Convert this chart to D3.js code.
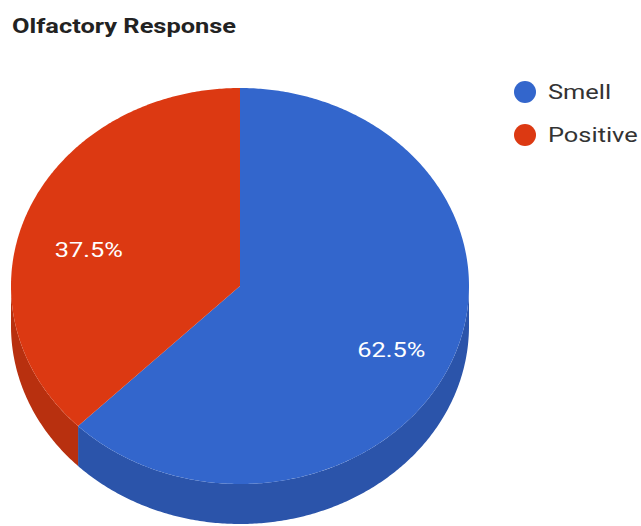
<!DOCTYPE html>
<html><head><meta charset="utf-8">
<script src="https://cdn.jsdelivr.net/npm/d3@7/dist/d3.min.js"></script>
<style>body{margin:0;background:#fff}svg{display:block}</style>
</head><body>
<script>
const title = "Olfactory Response";
const categories = ["Smell", "Positive"];
const values = [62.5, 37.5];
const colors = ["#3366cc", "#dc3912"];
const sideColors = ["#2b54aa", "#b8300f"];

const W = 641, H = 526;
const cx = 240, cy = 286, rx = 229, ry = 198, depth = 40;
const stretch = 1.27; // reference image is horizontally stretched

const svg = d3.select("body").append("svg").attr("width", W).attr("height", H);

function stext(x, y, str) {
  return svg.append("text").attr("transform", `translate(${x},${y}) scale(${stretch},1)`).text(str);
}

stext(12, 33, title)
  .attr("font-family", "Roboto").attr("font-weight", "bold").attr("font-size", 20)
  .attr("fill", "#222");

const pie = d3.pie().sort(null).value(d => d)(values);
const px = a => cx + rx * Math.sin(a);
const py = a => cy - ry * Math.cos(a);
const line = d3.line();

function arcPts(a0, a1, dy) {
  const n = Math.max(2, Math.ceil(Math.abs(a1 - a0) / 0.01));
  return d3.range(n + 1).map(i => {
    const a = a0 + (a1 - a0) * i / n;
    return [px(a), py(a) + dy];
  });
}

// side walls (front half)
pie.forEach((p, i) => {
  const s = Math.max(p.startAngle, Math.PI / 2), e = Math.min(p.endAngle, 3 * Math.PI / 2);
  if (e > s) {
    const pts = arcPts(s, e, 0).concat(arcPts(e, s, depth));
    svg.append("path").attr("d", line(pts) + "Z").attr("fill", sideColors[i]);
  }
});
// tops
pie.forEach((p, i) => {
  const pts = [[cx, cy]].concat(arcPts(p.startAngle, p.endAngle, 0));
  svg.append("path").attr("d", line(pts) + "Z").attr("fill", colors[i]);
});
// labels
pie.forEach((p, i) => {
  const m = (p.startAngle + p.endAngle) / 2;
  const kx = 0.715, ky = 0.66;
  stext(cx + kx * rx * Math.sin(m), cy - ky * ry * Math.cos(m) + 14,
        d3.format(".1f")(values[i] / d3.sum(values) * 100) + "%")
    .attr("text-anchor", "middle").attr("dominant-baseline", "central")
    .attr("font-family", "Roboto").attr("font-size", 20).attr("fill", "#fff");
});
// legend
categories.forEach((c, i) => {
  const y = 92 + i * 43;
  svg.append("circle").attr("cx", 525).attr("cy", y).attr("r", 11).attr("fill", colors[i]);
  stext(548, y, c).attr("dominant-baseline", "central")
    .attr("font-family", "Roboto").attr("font-size", 20).attr("fill", "#333");
});
</script>
</body></html>
